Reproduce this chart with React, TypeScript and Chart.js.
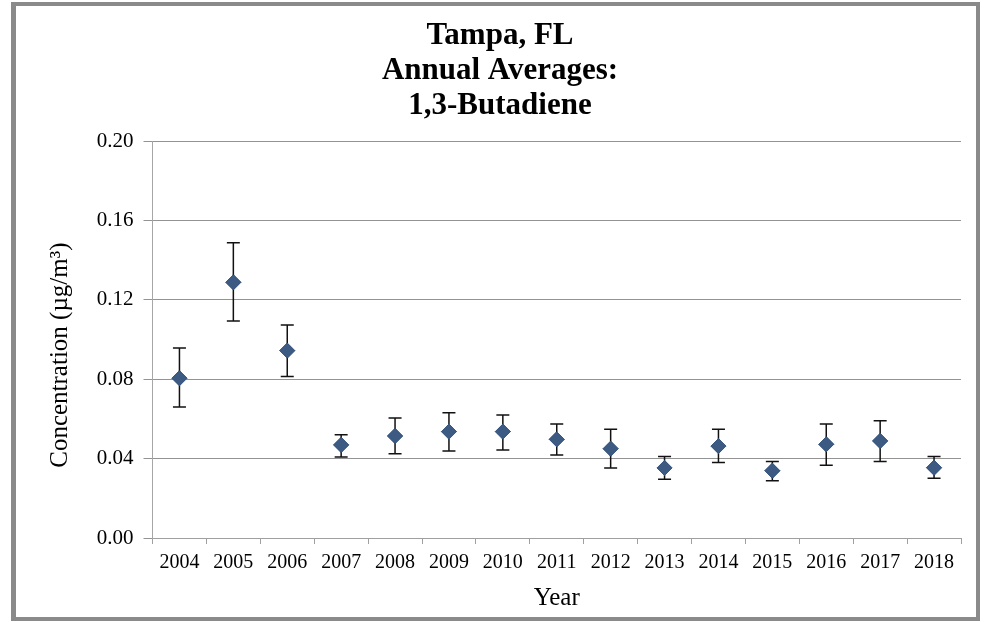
import React, { useEffect, useRef } from "react";
import { Chart, registerables } from "chart.js";

Chart.register(...registerables);

const years = ["2004","2005","2006","2007","2008","2009","2010","2011","2012","2013","2014","2015","2016","2017","2018"];
const averages = [0.0805, 0.1288, 0.0944, 0.0469, 0.0514, 0.0536, 0.0536, 0.0497, 0.0450, 0.0353, 0.0463, 0.0339, 0.0472, 0.0489, 0.0354];
const upper = [0.0957, 0.1488, 0.1073, 0.0520, 0.0605, 0.0631, 0.0620, 0.0574, 0.0548, 0.0410, 0.0548, 0.0386, 0.0574, 0.0591, 0.0410];
const lower = [0.0660, 0.1093, 0.0813, 0.0408, 0.0425, 0.0438, 0.0443, 0.0418, 0.0353, 0.0296, 0.0380, 0.0289, 0.0367, 0.0386, 0.0301];
const yTicks = [0, 0.04, 0.08, 0.12, 0.16, 0.2];
const titleLines = ["Tampa, FL", "Annual Averages:", "1,3-Butadiene"];

const FONT = "'Liberation Serif', 'Times New Roman', serif";

const errorBarPlugin = {
  id: "errorBars",
  afterDatasetsDraw(chart: any) {
    const ctx = chart.ctx;
    const xs = chart.scales.x;
    const ys = chart.scales.y;
    ctx.save();
    ctx.strokeStyle = "#111111";
    ctx.lineWidth = 1.5;
    for (let i = 0; i < years.length; i++) {
      const x = xs.getPixelForValue(i);
      const yt = ys.getPixelForValue(upper[i]);
      const yb = ys.getPixelForValue(lower[i]);
      ctx.beginPath();
      ctx.moveTo(x, yt);
      ctx.lineTo(x, yb);
      ctx.moveTo(x - 6.5, yt);
      ctx.lineTo(x + 6.5, yt);
      ctx.moveTo(x - 6.5, yb);
      ctx.lineTo(x + 6.5, yb);
      ctx.stroke();
    }
    ctx.restore();
    const meta = chart.getDatasetMeta(0);
    meta.data.forEach((pt: any) => pt.draw(ctx, chart.chartArea));
  },
};

export default function App() {
  const ref = useRef<HTMLCanvasElement>(null);
  useEffect(() => {
    if (!ref.current) return;
    const chart = new Chart(ref.current, {
      type: "line",
      data: {
        labels: years,
        datasets: [
          {
            data: averages,
            showLine: false,
            pointStyle: "rectRot",
            pointRadius: 7.5,
            pointHoverRadius: 7.5,
            pointBackgroundColor: "#3C5A82",
            pointBorderColor: "#3C5A82",
            pointBorderWidth: 1,
          },
        ],
      },
      options: {
        animation: false,
        responsive: true,
        maintainAspectRatio: false,
        layout: { padding: { top: 18, left: 39, right: 23, bottom: 0 } },
        plugins: {
          legend: { display: false },
          tooltip: { enabled: false },
          title: {
            display: true,
            text: titleLines,
            color: "#000",
            font: { family: FONT, size: 31, weight: "bold", lineHeight: 35 / 31 },
            padding: { top: 0, bottom: 18 },
          },
        },
        scales: {
          x: {
            type: "category",
            offset: true,
            afterFit: (s: any) => { s.height = 84; },
            grid: { display: true, offset: true, drawOnChartArea: false, drawTicks: true, tickLength: 6, color: "#a0a0a0" },
            border: { display: true, color: "#a0a0a0", width: 1 },
            ticks: { color: "#000", font: { family: FONT, size: 20 }, padding: 7, maxRotation: 0, autoSkip: false },
            title: { display: true, text: "Year", color: "#000", font: { family: FONT, size: 25 }, padding: { top: 0, bottom: 9 } },
          },
          y: {
            min: 0,
            max: 0.2,
            afterFit: (s: any) => { s.width = 113.5; },
            afterBuildTicks: (s: any) => { s.ticks = yTicks.map((v) => ({ value: v })); },
            grid: { display: true, drawTicks: true, tickLength: 9, color: "#939393", lineWidth: 1 },
            border: { display: true, color: "#a6a6a6", width: 1 },
            ticks: { color: "#000", font: { family: FONT, size: 21 }, padding: 10, callback: (v: any) => Number(v).toFixed(2) },
            title: { display: true, text: "Concentration (µg/m³)     ", color: "#000", font: { family: FONT, size: 25 }, padding: { top: 6, bottom: 0 } },
          },
        },
      },
      plugins: [errorBarPlugin],
    });
    return () => chart.destroy();
  }, []);
  return (
    <div style={{ position: "absolute", left: 0, top: 0, width: 984, height: 622, background: "#fff" }}>
      <canvas ref={ref} />
      <div style={{ position: "absolute", left: 11, top: 2, width: 969, height: 619, boxSizing: "border-box", border: "4px solid #8a8a8a", borderLeftWidth: 5, pointerEvents: "none" }} />
    </div>
  );
}
